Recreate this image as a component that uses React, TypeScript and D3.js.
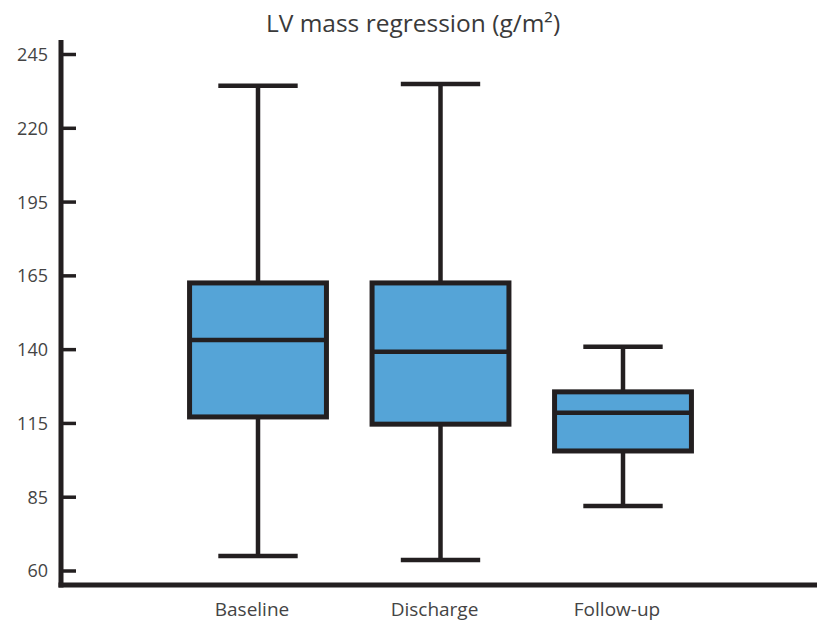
import * as d3 from 'd3';
import React from 'react';

// values
const categories = ['Baseline', 'Discharge', 'Follow-up'];
const whiskerHigh = [234.4, 235, 141];
const q3Values = [162.6, 162.6, 125.7];
const medians = [143.3, 139.3, 118.6];
const q1Values = [117.2, 114.7, 103.8];
const whiskerLow = [65.1, 63.7, 82];
const yTickValues = [60, 85, 115, 140, 165, 195, 220, 245];

const width = 817;
const height = 622;

const App: React.FC = () => {
    const axisX = 61;
    const axisY = 585;
    const yBottom = 571;
    const yTop = 54.5;
    const n = yTickValues.length;

    // the tick labels are evenly spaced on the original, so the scale is piecewise
    const y = d3
        .scaleLinear()
        .domain(yTickValues)
        .range(yTickValues.map((_, i) => yBottom - (i * (yBottom - yTop)) / (n - 1)));

    const x = d3.scalePoint<string>().domain(categories).range([258, 623]);
    const boxW = x.step() * 0.75;
    const capW = boxW * 0.58;

    const stroke = '#231f20';
    const fill = '#55a4d7';

    return (
        <svg
            width={width}
            height={height}
            style={{ position: 'absolute', left: 0, top: 0, background: '#fff' }}
            fontFamily="'Open Sans', sans-serif"
        >
            <rect width={width} height={height} fill="#fff" />

            {/* title */}
            <text x={413} y={32} textAnchor="middle" fontSize={24.5} fill="#3a3a3a">
                LV mass regression (g/m²)
            </text>

            {/* boxes */}
            {categories.map((c, i) => {
                const cx = x(c) as number;
                return (
                    <g key={c} stroke={stroke}>
                        <line x1={cx} x2={cx} y1={y(whiskerHigh[i])} y2={y(q3Values[i])} strokeWidth={4.5} />
                        <line x1={cx} x2={cx} y1={y(q1Values[i])} y2={y(whiskerLow[i])} strokeWidth={4.5} />
                        <line x1={cx - capW / 2} x2={cx + capW / 2} y1={y(whiskerHigh[i])} y2={y(whiskerHigh[i])} strokeWidth={4.5} />
                        <line x1={cx - capW / 2} x2={cx + capW / 2} y1={y(whiskerLow[i])} y2={y(whiskerLow[i])} strokeWidth={4.5} />
                        <rect
                            x={cx - boxW / 2}
                            y={y(q3Values[i])}
                            width={boxW}
                            height={y(q1Values[i]) - y(q3Values[i])}
                            fill={fill}
                            strokeWidth={5}
                        />
                        <line x1={cx - boxW / 2} x2={cx + boxW / 2} y1={y(medians[i])} y2={y(medians[i])} strokeWidth={4.5} />
                    </g>
                );
            })}

            {/* y axis */}
            <line x1={axisX} x2={axisX} y1={40} y2={axisY + 2.5} stroke={stroke} strokeWidth={5} />
            {yTickValues.map((v) => (
                <g key={v}>
                    <line x1={axisX} x2={axisX + 15} y1={y(v)} y2={y(v)} stroke={stroke} strokeWidth={3.5} />
                    <text x={48} y={y(v)} dy="0.36em" textAnchor="end" fontSize={18} fill="#444">
                        {v}
                    </text>
                </g>
            ))}

            {/* x axis */}
            <line x1={axisX - 2.5} x2={width} y1={axisY} y2={axisY} stroke={stroke} strokeWidth={5} />
            {categories.map((c) => (
                <text key={c} x={(x(c) as number) - 6} y={616} textAnchor="middle" fontSize={19} fill="#444">
                    {c}
                </text>
            ))}
        </svg>
    );
};

export default App;
